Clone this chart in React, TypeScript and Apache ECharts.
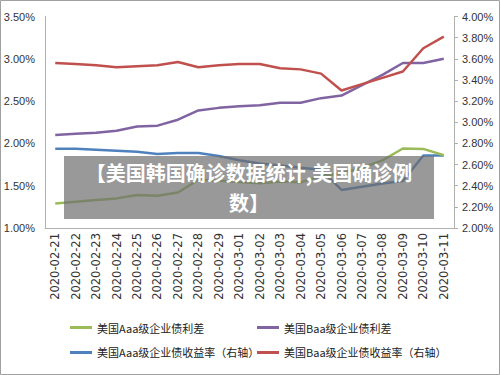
import React, { useEffect, useRef } from "react";
import * as echarts from "echarts";

const dates = [
  "2020-02-21", "2020-02-22", "2020-02-23", "2020-02-24", "2020-02-25",
  "2020-02-26", "2020-02-27", "2020-02-28", "2020-02-29", "2020-03-01",
  "2020-03-02", "2020-03-03", "2020-03-04", "2020-03-05", "2020-03-06",
  "2020-03-07", "2020-03-08", "2020-03-09", "2020-03-10", "2020-03-11",
];

// left axis (%)
const aaaSpread = [1.29, 1.31, 1.33, 1.35, 1.39, 1.38, 1.42, 1.57, 1.56, 1.545, 1.53, 1.55, 1.54, 1.61, 1.65, 1.71, 1.8, 1.94, 1.935, 1.86];
const baaSpread = [2.1, 2.115, 2.125, 2.15, 2.2, 2.21, 2.28, 2.39, 2.42, 2.44, 2.45, 2.48, 2.48, 2.535, 2.565, 2.69, 2.81, 2.95, 2.95, 3.0];
// right axis (%)
const aaaYield = [2.75, 2.75, 2.74, 2.73, 2.72, 2.7, 2.71, 2.71, 2.68, 2.64, 2.61, 2.59, 2.57, 2.55, 2.36, 2.39, 2.42, 2.445, 2.685, 2.685];
const baaYield = [3.56, 3.55, 3.54, 3.52, 3.53, 3.54, 3.57, 3.52, 3.54, 3.55, 3.55, 3.51, 3.5, 3.46, 3.3, 3.36, 3.42, 3.48, 3.7, 3.81];

const names = [
  "美国Aaa级企业债利差",
  "美国Baa级企业债利差",
  "美国Aaa级企业债收益率（右轴）",
  "美国Baa级企业债收益率（右轴）",
];
const titleLines = ["【美国韩国确诊数据统计,美国确诊例", "数】"];

export default function App() {
  const ref = useRef<HTMLDivElement>(null);
  useEffect(() => {
    document.body.style.margin = "0";
    const chart = echarts.init(ref.current!, null, { renderer: "svg" });
    const axisFont = { fontFamily: "Liberation Sans Narrow, Arial Narrow, Liberation Sans, Arial", fontSize: 11, color: "#333" };
    const legendText = { fontFamily: "Noto Sans CJK SC, sans-serif", fontSize: 11, color: "#222" };
    const mkLine = (name: string, data: number[], color: string, yIdx: number) => ({
      name, type: "line", data, yAxisIndex: yIdx, symbol: "none", smooth: false,
      lineStyle: { color, width: 2.5 }, itemStyle: { color },
    });
    const titleFont = "bold 20px 'Noto Sans CJK SC', sans-serif";
    chart.setOption({
      animation: false,
      backgroundColor: "#fff",
      grid: { left: 45, right: 46, top: 16.5, bottom: 147 },
      xAxis: {
        type: "category", data: dates, boundaryGap: true,
        axisLine: { show: true, lineStyle: { color: "#b0b0b0" } },
        axisTick: { show: false },
        axisLabel: { rotate: 90, interval: 0, margin: 5, fontFamily: "DejaVu Sans", fontSize: 11.5, color: "#333" },
      },
      yAxis: [
        {
          type: "value", min: 1, max: 3.5, interval: 0.5, position: "left",
          axisLine: { show: true, lineStyle: { color: "#b0b0b0" } },
          axisTick: { show: false },
          splitLine: { show: false },
          axisLabel: { ...axisFont, margin: 10, formatter: (v: number) => v.toFixed(2) + "%" },
        },
        {
          type: "value", min: 2, max: 4, interval: 0.2, position: "right",
          axisLine: { show: true, lineStyle: { color: "#b0b0b0" } },
          axisTick: { show: true, inside: false, length: 4, lineStyle: { color: "#b0b0b0" } },
          splitLine: { show: false },
          axisLabel: { ...axisFont, margin: 8, formatter: (v: number) => v.toFixed(2) + "%" },
        },
      ],
      legend: [
        {
          orient: "vertical", left: 65, top: 317, itemGap: 14, itemWidth: 22, itemHeight: 3,
          icon: "rect", data: [names[0], names[2]], textStyle: legendText,
        },
        {
          orient: "vertical", left: 252, top: 317, itemGap: 14, itemWidth: 22, itemHeight: 3,
          icon: "rect", data: [names[1], names[3]], textStyle: legendText,
        },
      ],
      series: [
        mkLine(names[2], aaaYield, "#4f81bd", 1),
        mkLine(names[0], aaaSpread, "#9bbb59", 0),
        mkLine(names[1], baaSpread, "#8064a2", 0),
        mkLine(names[3], baaYield, "#c0504d", 1),
      ],
      graphic: [
        {
          type: "rect", z: 100, silent: true, shape: { x: 0.5, y: 0.5, width: 499, height: 374 },
          style: { fill: "none", stroke: "#a0a0a0", lineWidth: 1 },
        },
        {
          type: "rect", z: 100, shape: { x: 64, y: 156, width: 370, height: 63 },
          style: { fill: "rgba(110,110,110,0.7)" },
        },
        {
          type: "text", z: 101, x: 249, y: 172,
          style: { text: titleLines[0], fill: "#fff", font: titleFont, textAlign: "center", textVerticalAlign: "middle" },
        },
        {
          type: "text", z: 101, x: 249, y: 202,
          style: { text: titleLines[1], fill: "#fff", font: titleFont, textAlign: "center", textVerticalAlign: "middle" },
        },
      ],
    });
    return () => chart.dispose();
  }, []);
  return <div ref={ref} style={{ width: 500, height: 375 }} />;
}
